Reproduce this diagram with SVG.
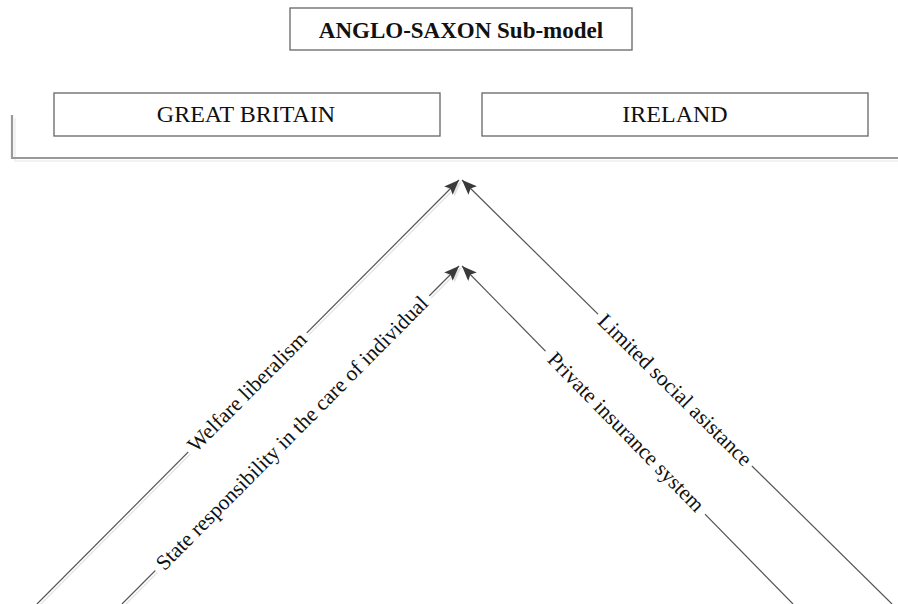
<svg xmlns="http://www.w3.org/2000/svg" width="898" height="604" viewBox="0 0 898 604">
<defs>
<style>
.box{fill:#fff;stroke:#666;stroke-width:1.3}
.boxt{font-family:"Liberation Serif","Times New Roman",serif;font-size:24px;fill:#111;text-anchor:middle}
.title{font-family:"Liberation Serif","Times New Roman",serif;font-size:23px;font-weight:bold;fill:#111;text-anchor:middle}
.ln{stroke:#555;stroke-width:1.2;fill:none}
.sh{stroke:#e2e2e2;stroke-width:1.2;fill:none}
.lbl{font-family:"Liberation Serif","Times New Roman",serif;font-size:21.5px;fill:#111;text-anchor:middle;dominant-baseline:central}
.br{stroke:#999;stroke-width:2.2;fill:none}
.brs{stroke:#eee;stroke-width:1.5;fill:none}
</style>
<marker id="ah" markerUnits="userSpaceOnUse" markerWidth="16" markerHeight="12" refX="15" refY="6" orient="auto">
<path d="M0,0 L15,6 L0,12 L3,6 Z" fill="#3a3a3a"/>
</marker>
<marker id="ahs" markerUnits="userSpaceOnUse" markerWidth="16" markerHeight="12" refX="15" refY="6" orient="auto">
<path d="M0,0 L15,6 L0,12 L3,6 Z" fill="#e2e2e2"/>
</marker>
</defs>
<rect width="898" height="604" fill="#fff"/>
<g id="title">
<rect class="box" x="290" y="8" width="342" height="42"/>
<text class="title" x="461" y="38">ANGLO-SAXON Sub-model</text>
</g>
<g id="bracket">
<polyline class="brs" points="15,118 15,161 898,161"/>
<polyline class="br" points="12,115 12,158 898,158"/>
</g>
<g id="great-britain">
<rect class="box" x="54" y="93" width="386" height="43"/>
<text class="boxt" x="246" y="122">GREAT BRITAIN</text>
</g>
<g id="ireland">
<rect class="box" x="482" y="93" width="386" height="43"/>
<text class="boxt" x="675" y="122">IRELAND</text>
</g>
<g id="connectors">
<line class="sh" x1="39" y1="606" x2="461" y2="182" marker-end="url(#ahs)"/>
<line class="sh" x1="124" y1="606" x2="461" y2="268" marker-end="url(#ahs)"/>
<line class="ln" x1="37" y1="604" x2="459" y2="180" marker-end="url(#ah)"/>
<line class="ln" x1="122" y1="604" x2="459" y2="266" marker-end="url(#ah)"/>
<line class="ln" x1="892" y1="604" x2="462" y2="180" marker-end="url(#ah)"/>
<line class="ln" x1="793" y1="604" x2="462" y2="266" marker-end="url(#ah)"/>
<g transform="translate(247,392) rotate(-45.1)">
<rect x="-84" y="-9" width="168" height="18" fill="#fff"/>
<text class="lbl" x="0" y="0">Welfare liberalism</text>
</g>
<g transform="translate(292,433) rotate(-45.2)">
<rect x="-194" y="-9" width="388" height="18" fill="#fff"/>
<text class="lbl" x="0" y="0">State responsibility in the care of individual</text>
</g>
<g transform="translate(675,390) rotate(44.6)">
<rect x="-108" y="-9" width="216" height="18" fill="#fff"/>
<text class="lbl" x="0" y="0">Limited social asistance</text>
</g>
<g transform="translate(626,432) rotate(45.6)">
<rect x="-114" y="-9" width="228" height="18" fill="#fff"/>
<text class="lbl" x="0" y="0">Private insurance system</text>
</g>
</g>
</svg>
